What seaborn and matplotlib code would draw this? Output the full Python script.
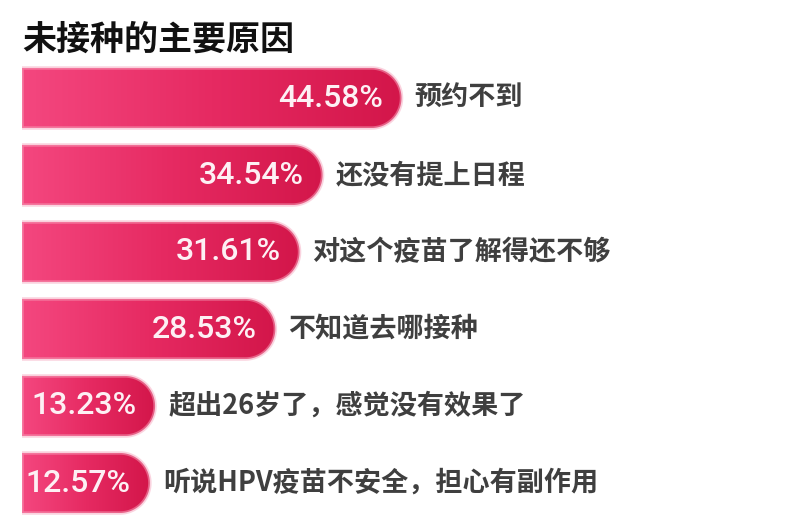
import numpy as np
import pandas as pd
import matplotlib
matplotlib.use("Agg")
import matplotlib.pyplot as plt
import seaborn as sns
from matplotlib.path import Path
from matplotlib.patches import PathPatch
from matplotlib.transforms import IdentityTransform
from matplotlib.colors import LinearSegmentedColormap

# Data
reasons = ["预约不到", "还没有提上日程", "对这个疫苗了解得还不够", "不知道去哪接种",
           "超出26岁了，感觉没有效果了", "听说HPV疫苗不安全，担心有副作用"]
shares = [44.58, 34.54, 31.61, 28.53, 13.23, 12.57]
title = "未接种的主要原因"

df = pd.DataFrame({"reason": reasons, "share": shares})

sns.set_theme(style="white")
plt.rcParams['font.family'] = ['Noto Sans CJK SC', 'DejaVu Sans']

fig = plt.figure(figsize=(7.92, 5.31), dpi=100)
fig.patch.set_facecolor("white")
ax = fig.add_axes([22 / 792, 9.5 / 531, 768 / 792, 462 / 531])

sns.barplot(data=df, x="share", y="reason", orient="h", width=0.78,
            color="#e8306a", ax=ax)
ax.set_xlim(-3.7, 94.0)
ax.set_ylim(5.5, -0.5)
ax.set_autoscale_on(False)
ax.axis("off")

grad_cmap = LinearSegmentedColormap.from_list("pinkred", ["#f4477f", "#e62a62", "#d3164a"])
grad = np.linspace(0, 1, 256).reshape(1, -1)
x_left = ax.get_xlim()[0]

bars = list(ax.patches)
for bar in bars:
    y0 = bar.get_y()
    y1 = y0 + bar.get_height()
    val = bar.get_x() + bar.get_width()
    bar.remove()

    # rounded right end, built in pixel space so the cap is a true half circle
    (L, B) = ax.transData.transform((x_left, y1))
    (R, T) = ax.transData.transform((val, y0))
    r = (T - B) / 2
    cx, cy = R - r, (B + T) / 2
    ang = np.linspace(-np.pi / 2, np.pi / 2, 60)
    pts = [(L, B)] + [(cx + r * np.cos(a), cy + r * np.sin(a)) for a in ang] + [(L, T), (L, B)]
    codes = [Path.MOVETO] + [Path.LINETO] * (len(pts) - 2) + [Path.CLOSEPOLY]
    shape = PathPatch(Path(pts, codes), transform=IdentityTransform(),
                      facecolor="none", edgecolor="none")
    ax.add_patch(shape)

    # soft glow around the bar
    glow = PathPatch(Path(pts, codes), transform=IdentityTransform(),
                     facecolor="none", edgecolor="#f7a9c0", lw=2.5, alpha=0.5)
    ax.add_patch(glow)

    img = ax.imshow(grad, extent=(x_left, val, y1, y0), aspect="auto",
                    cmap=grad_cmap, interpolation="bilinear")
    img.set_clip_path(shape)

    yc = (y0 + y1) / 2
    ax.annotate(f"{val:.2f}%", xy=(val, yc), xytext=(-19, 0), textcoords="offset pixels",
                ha="right", va="center", color="#fdf0f4", fontsize=23,
                family=["Roboto", "DejaVu Sans"], fontweight="medium")

for i, (reason, val) in enumerate(zip(reasons, shares)):
    ax.annotate(reason, xy=(val, i), xytext=(13, 0), textcoords="offset pixels",
                ha="left", va="center", color="#3f3f3f", fontsize=19.5,
                fontweight="semibold")

ax.set_xlim(-3.7, 94.0)
ax.set_ylim(5.5, -0.5)

fig.text(22 / 792, 1 - 39 / 531, title, ha="left", va="center",
         fontsize=24.5, fontweight="heavy", color="#111111")

fig.savefig("out.png", dpi=100, facecolor="white")
